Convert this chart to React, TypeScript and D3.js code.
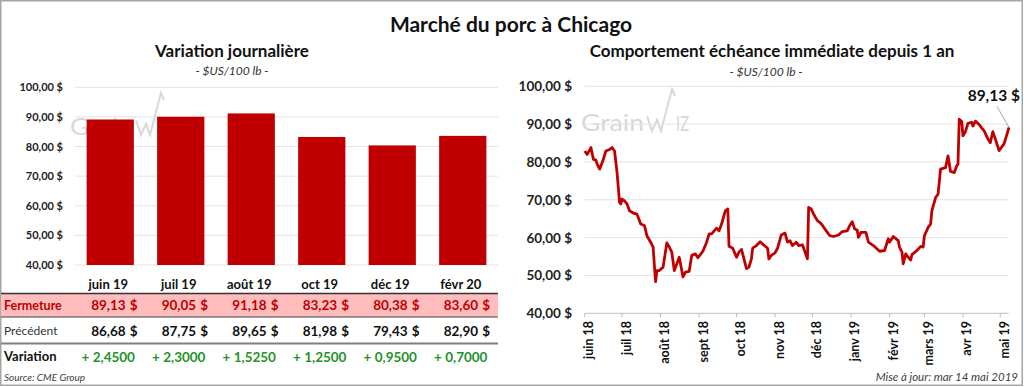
import React from 'react';
import * as d3 from 'd3';

// left panel: nearby contracts
const barMonths = ['juin 19', 'juil 19', 'août 19', 'oct 19', 'déc 19', 'févr 20'];
const closeValues = [89.13, 90.05, 91.18, 83.23, 80.38, 83.6];
const prevValues = [86.68, 87.75, 89.65, 81.98, 79.43, 82.9];
const changeValues = [2.45, 2.3, 1.525, 1.25, 0.95, 0.7];
const yTicks = [40, 50, 60, 70, 80, 90, 100];

// right panel: front month over one year
const monthLabels = ['juin 18', 'juil 18', 'août 18', 'sept 18', 'oct 18', 'nov 18', 'déc 18', 'janv 19', 'févr 19', 'mars 19', 'avr 19', 'mai 19'];
const lineDates = [
  '2018-06-01', '2018-06-03', '2018-06-06', '2018-06-08', '2018-06-10', '2018-06-11', '2018-06-13', '2018-06-16', '2018-06-18', '2018-06-21',
  '2018-06-23', '2018-06-25', '2018-06-27', '2018-06-29', '2018-06-30', '2018-07-01', '2018-07-03', '2018-07-05', '2018-07-07', '2018-07-10',
  '2018-07-13', '2018-07-14', '2018-07-16', '2018-07-19', '2018-07-21', '2018-07-24', '2018-07-26', '2018-07-27', '2018-07-28', '2018-07-29',
  '2018-07-31', '2018-08-03', '2018-08-06', '2018-08-08', '2018-08-10', '2018-08-12', '2018-08-16', '2018-08-19', '2018-08-21', '2018-08-24',
  '2018-08-26', '2018-08-29', '2018-08-31', '2018-09-04', '2018-09-07', '2018-09-09', '2018-09-11', '2018-09-15', '2018-09-17', '2018-09-19',
  '2018-09-22', '2018-09-24', '2018-09-25', '2018-09-28', '2018-10-01', '2018-10-03', '2018-10-05', '2018-10-07', '2018-10-09', '2018-10-11',
  '2018-10-13', '2018-10-14', '2018-10-17', '2018-10-20', '2018-10-22', '2018-10-26', '2018-10-27', '2018-10-29', '2018-11-01', '2018-11-03',
  '2018-11-06', '2018-11-09', '2018-11-11', '2018-11-13', '2018-11-15', '2018-11-18', '2018-11-20', '2018-11-23', '2018-11-27', '2018-11-28',
  '2018-11-30', '2018-12-02', '2018-12-05', '2018-12-07', '2018-12-09', '2018-12-11', '2018-12-13', '2018-12-15', '2018-12-18', '2018-12-22',
  '2018-12-25', '2018-12-29', '2018-12-31', '2019-01-02', '2019-01-04', '2019-01-06', '2019-01-07', '2019-01-09', '2019-01-13', '2019-01-15',
  '2019-01-19', '2019-01-24', '2019-01-28', '2019-01-31', '2019-02-01', '2019-02-04', '2019-02-08', '2019-02-09', '2019-02-11', '2019-02-12',
  '2019-02-14', '2019-02-16', '2019-02-18', '2019-02-19', '2019-02-23', '2019-02-26', '2019-02-28', '2019-03-01', '2019-03-04', '2019-03-06',
  '2019-03-07', '2019-03-10', '2019-03-12', '2019-03-14', '2019-03-18', '2019-03-20', '2019-03-22', '2019-03-25', '2019-03-27', '2019-03-28',
  '2019-03-29', '2019-03-31', '2019-04-01', '2019-04-03', '2019-04-05', '2019-04-08', '2019-04-09', '2019-04-11', '2019-04-14', '2019-04-16',
  '2019-04-18', '2019-04-21', '2019-04-23', '2019-04-25', '2019-04-27', '2019-04-30', '2019-05-02', '2019-05-04', '2019-05-07', '2019-05-08',
];
const lineValues = [
  82.9, 82.0, 83.8, 80.7, 80.5, 79.4, 78.1, 80.7, 82.9, 83.3,
  83.8, 82.9, 77.2, 69.3, 68.9, 70.2, 69.7, 68.9, 67.1, 66.5,
  66.2, 65.4, 63.6, 63.2, 60.5, 58.8, 57.5, 52.6, 48.4, 51.3,
  51.3, 52.2, 58.6, 57.5, 56.2, 51.3, 54.8, 49.6, 50.9, 51.1,
  55.3, 55.7, 54.7, 56.4, 58.8, 61.0, 61.0, 62.5, 61.8, 63.6,
  67.1, 67.6, 57.7, 57.2, 54.8, 56.2, 56.9, 54.4, 51.8, 52.2,
  54.4, 57.2, 57.9, 58.9, 58.3, 57.2, 54.4, 55.3, 56.0, 57.2,
  60.7, 61.2, 58.8, 59.2, 57.9, 58.8, 57.9, 58.1, 54.4, 68.0,
  67.6, 66.2, 64.5, 64.0, 63.3, 62.3, 61.4, 60.5, 60.3, 60.7,
  61.6, 61.8, 63.2, 64.2, 62.3, 62.0, 60.1, 61.4, 61.4, 58.8,
  57.9, 56.4, 56.6, 59.7, 58.8, 60.3, 59.2, 57.5, 56.2, 53.1,
  55.7, 54.8, 54.1, 55.5, 56.6, 57.7, 57.5, 60.5, 62.7, 63.6,
  67.1, 70.6, 71.5, 78.1, 78.5, 81.6, 77.5, 77.2, 79.0, 79.4,
  91.3, 90.7, 86.9, 88.0, 90.2, 90.5, 89.5, 90.8, 89.9, 89.0,
  88.2, 86.1, 85.1, 88.0, 86.1, 83.0, 83.9, 84.8, 88.0, 89.13,
];

const FONT = "Lato, 'Open Sans', sans-serif";
const RED = '#C00000';
const GREEN = '#23922A';
const GRID = '#E3E3E3';
const MARK = '#D8D8D8';

const fmt2 = (v: number) => v.toFixed(2).replace('.', ',');
const fmt4 = (v: number) => '+ ' + v.toFixed(4).replace('.', ',');

// faint "GrainWiz" logo behind the plots
const Watermark: React.FC<{ dx: number; dy: number }> = ({ dx, dy }) => (
  <g transform={`translate(${dx},${dy})`} fill={MARK} stroke="none">
    <text x={581} y={131} fontFamily={FONT} fontSize={23} textLength={63} lengthAdjust="spacingAndGlyphs">Grain</text>
    <polyline points="647,116 652,131 657,120 661,131 672,89 675,96" fill="none" stroke={MARK} strokeWidth={2} />
    <text x={676} y={131} fontFamily={FONT} fontSize={22} textLength={13} lengthAdjust="spacingAndGlyphs">IZ</text>
  </g>
);

const App: React.FC = () => {
  const width = 1024;
  const height = 387;

  // left chart scales
  const yL = d3.scaleLinear().domain([40, 100]).range([265, 87.3]);
  const xL = d3.scaleBand().domain(barMonths).range([75, 498]).paddingInner(0.33).paddingOuter(0.165);
  const bw = xL.bandwidth();

  // right chart scales
  const parsed = lineDates.map(d => new Date(d + 'T00:00:00Z'));
  const xR = d3.scaleUtc()
    .domain([new Date('2018-06-01T00:00:00Z'), parsed[parsed.length - 1]])
    .range([584.7, 1009]);
  const yR = d3.scaleLinear().domain([40, 100]).range([313.3, 86.3]);
  const monthTicks = d3.utcMonth.range(new Date('2018-06-01T00:00:00Z'), new Date('2019-05-02T00:00:00Z'));
  const line = d3.line<number>()
    .x((_, i) => xR(parsed[i]))
    .y(v => yR(v));
  const lastX = xR(parsed[parsed.length - 1]);
  const lastY = yR(lineValues[lineValues.length - 1]);

  return (
    <svg width={width} height={height} style={{ position: 'absolute', left: 0, top: 0, background: '#fff' }} fontFamily={FONT}>
      <rect x={0} y={0} width={width} height={height} fill="#fff" />
      <rect x={0.75} y={0.75} width={1021.5} height={384.5} fill="none" stroke="#A6A6A6" strokeWidth={1.5} />

      <text x={511} y={32} textAnchor="middle" fontSize={21} fontWeight={700} fill="#111">Marché du porc à Chicago</text>

      {/* ---- left: daily variation ---- */}
      <text x={232} y={57} textAnchor="middle" fontSize={17} fontWeight={700} fill="#111">Variation journalière</text>
      <text x={232} y={75} textAnchor="middle" fontSize={12} fontStyle="italic" fill="#333">- $US/100 lb -</text>

      {yTicks.map(t => (
        <g key={'gl' + t}>
          <line x1={75} x2={498} y1={yL(t)} y2={yL(t)} stroke={GRID} strokeWidth={1} />
          <text x={63} y={yL(t) + 4} textAnchor="end" fontSize={11} fontWeight={700} fill="#222">{fmt2(t)} $</text>
        </g>
      ))}
      <Watermark dx={-511} dy={4} />
      {barMonths.map((m, i) => (
        <rect key={m} x={xL(m)} y={yL(closeValues[i])} width={bw} height={yL(40) - yL(closeValues[i])} fill={RED} />
      ))}
      {barMonths.map(m => (
        <text key={'ml' + m} x={xL(m)! + bw / 2 - 2} y={289} textAnchor="middle" fontSize={13} fontWeight={700} fill="#111">{m}</text>
      ))}

      {/* table */}
      <rect x={1} y={294} width={497} height={23} fill="#FFBDBD" />
      <line x1={1} x2={498} y1={293.5} y2={293.5} stroke="#333" strokeWidth={1.5} />
      <line x1={1} x2={498} y1={317} y2={317} stroke="#444" strokeWidth={1} />
      <line x1={1} x2={498} y1={343.5} y2={343.5} stroke="#7F7F7F" strokeWidth={2} />
      <text x={4} y={309.5} fontSize={12.5} fontWeight={700} fill={RED}>Fermeture</text>
      <text x={4} y={335} fontSize={12} fill="#333">Précédent</text>
      <text x={4} y={361} fontSize={13} fontWeight={700} fill="#111">Variation</text>
      {barMonths.map((m, i) => {
        const b = xL(m)!;
        return (
          <g key={'row' + m} fontSize={13.5} fontWeight={700}>
            <text x={b + 39} y={310} textAnchor="end" fill={RED}>{fmt2(closeValues[i])}</text>
            <text x={b + 51} y={310} textAnchor="end" fill={RED}>$</text>
            <text x={b + 39} y={335.5} textAnchor="end" fill="#111">{fmt2(prevValues[i])}</text>
            <text x={b + 51} y={335.5} textAnchor="end" fill="#111">$</text>
            <text x={b + bw / 2 - 2} y={361.5} textAnchor="middle" fill={GREEN}>{fmt4(changeValues[i])}</text>
          </g>
        );
      })}
      <text x={4} y={381} fontSize={10} fontStyle="italic" fill="#404040">Source: CME Group</text>

      {/* ---- right: front month one year ---- */}
      <text x={772} y={57} textAnchor="middle" fontSize={17} fontWeight={700} fill="#111">Comportement échéance immédiate depuis 1 an</text>
      <text x={766} y={76} textAnchor="middle" fontSize={12} fontStyle="italic" fill="#333">- $US/100 lb -</text>
      <Watermark dx={0} dy={0} />
      {yTicks.map(t => (
        <g key={'gr' + t}>
          {t > 40 && <line x1={584.7} x2={1008.7} y1={yR(t)} y2={yR(t)} stroke={GRID} strokeWidth={1} />}
          <text x={572} y={yR(t) + 5} textAnchor="end" fontSize={13.5} fontWeight={700} fill="#222">{fmt2(t)} $</text>
        </g>
      ))}
      <line x1={584.7} x2={1008.7} y1={yR(40)} y2={yR(40)} stroke="#BFBFBF" strokeWidth={1} />
      {monthTicks.map((d, i) => (
        <g key={'mt' + i}>
          <line x1={xR(d)} x2={xR(d)} y1={yR(40)} y2={yR(40) + 4} stroke="#BFBFBF" strokeWidth={1} />
          <text transform={`translate(${xR(d) + 8.5},321) rotate(-90)`} textAnchor="end" fontSize={12.5} fontWeight={700} fill="#111">{monthLabels[i]}</text>
        </g>
      ))}
      <path d={line(lineValues) ?? ''} fill="none" stroke={RED} strokeWidth={2.8} strokeLinejoin="round" />
      <line x1={lastX - 12} y1={lastY - 21} x2={lastX} y2={lastY} stroke="#A6A6A6" strokeWidth={1} />
      <text x={1020} y={101} textAnchor="end" fontSize={15.5} fontWeight={700} fill="#111">{fmt2(lineValues[lineValues.length - 1])} $</text>
      <text x={1018} y={381} textAnchor="end" fontSize={11.5} fontStyle="italic" fill="#404040">Mise à jour: mar 14 mai 2019</text>
    </svg>
  );
};

export default App;
